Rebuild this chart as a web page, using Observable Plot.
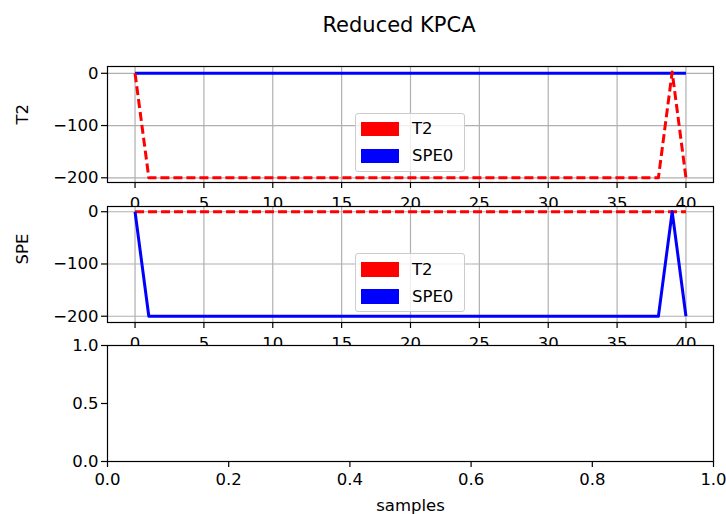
<!DOCTYPE html>
<html>
<head>
<meta charset="utf-8">
<script src="https://cdn.jsdelivr.net/npm/d3@7"></script>
<script src="https://cdn.jsdelivr.net/npm/@observablehq/plot@0.6"></script>
<style>
  body { margin: 0; background: #fff; }
  #fig { position: relative; width: 726px; height: 514px; overflow: hidden; background: #fff; font-family: "DejaVu Sans", sans-serif; color: #000; }
  #fig svg { position: absolute; left: 0; top: 0; overflow: visible; }
  .title { position: absolute; left: 0; top: 15px; width: 798px; text-align: center; font-size: 21px; line-height: 21px; white-space: nowrap; }
  .legend { position: absolute; width: 110px; height: 59px; box-sizing: border-box; border: 1px solid #cccccc; border-radius: 3px; background: rgba(255,255,255,0.8); }
  .legend .sw { position: absolute; left: 5px; width: 38px; height: 14.5px; }
  .legend .lb { position: absolute; left: 56px; font-size: 16.5px; line-height: 16px; white-space: nowrap; }
</style>
</head>
<body>
<div id="fig">
  <div class="title">Reduced KPCA</div>
</div>
<script>
// ---- data ----
const samples = [0,1,2,3,4,5,6,7,8,9,10,11,12,13,14,15,16,17,18,19,20,21,22,23,24,25,26,27,28,29,30,31,32,33,34,35,36,37,38,39,40];
// panel 1: T2 statistic (red dashed) and SPE0 (blue, flat)
const t2Top = [0,-200,-200,-200,-200,-200,-200,-200,-200,-200,-200,-200,-200,-200,-200,-200,-200,-200,-200,-200,-200,-200,-200,-200,-200,-200,-200,-200,-200,-200,-200,-200,-200,-200,-200,-200,-200,-200,-200,2.5,-200];
const spe0Top = [0,0,0,0,0,0,0,0,0,0,0,0,0,0,0,0,0,0,0,0,0,0,0,0,0,0,0,0,0,0,0,0,0,0,0,0,0,0,0,0,0];
// panel 2: T2 (red dashed, flat) and SPE0 statistic (blue)
const t2Mid = [0,0,0,0,0,0,0,0,0,0,0,0,0,0,0,0,0,0,0,0,0,0,0,0,0,0,0,0,0,0,0,0,0,0,0,0,0,0,0,0,0];
const spe0Mid = [0,-200,-200,-200,-200,-200,-200,-200,-200,-200,-200,-200,-200,-200,-200,-200,-200,-200,-200,-200,-200,-200,-200,-200,-200,-200,-200,-200,-200,-200,-200,-200,-200,-200,-200,-200,-200,-200,-200,0,-200];
// tick labels
const xTicks = [0,5,10,15,20,25,30,35,40];
const yTicks = [0,-100,-200];
const unitXTicks = [0,0.2,0.4,0.6,0.8,1.0];
const unitYTicks = [0,0.5,1.0];
const seriesNames = ["T2","SPE0"];
const seriesColors = ["#ff0000","#0000ff"];

// ---- layout ----
const W = 726, H = 514;
const left = 107, right = 713;
const fig = document.getElementById("fig");
const minus = d => d < 0 ? "\u2212" + (-d) : String(d);
const baseStyle = { background: "transparent", overflow: "visible", fontFamily: "DejaVu Sans, sans-serif", fontSize: "16.5px", color: "#000" };

function redLine(vals) {
  return Plot.line(samples, { x: samples, y: vals, stroke: seriesColors[0], strokeWidth: 3, strokeDasharray: "9,4", strokeLinejoin: "round", strokeLinecap: "butt" });
}
function blueLine(vals) {
  return Plot.line(samples, { x: samples, y: vals, stroke: seriesColors[1], strokeWidth: 3, strokeLinejoin: "round", strokeLinecap: "butt" });
}

function panel(top, bottom, yDomain, lineMarks, ylabel) {
  return Plot.plot({
    width: W, height: H,
    marginLeft: left, marginRight: W - right, marginTop: top, marginBottom: H - bottom,
    style: baseStyle,
    x: { domain: [-2, 42] },
    y: { domain: yDomain },
    marks: [
      Plot.frame({ fill: "white", stroke: null }),
      Plot.gridX(xTicks, { stroke: "#b0b0b0", strokeOpacity: 1, strokeWidth: 1.2 }),
      Plot.gridY(yTicks, { stroke: "#b0b0b0", strokeOpacity: 1, strokeWidth: 1.2 }),
      ...lineMarks,
      Plot.axisX(xTicks, { tickSize: 6, tickPadding: 9, label: null, strokeWidth: 1.2 }),
      Plot.axisY(yTicks, { tickSize: 6, tickPadding: 3, tickFormat: minus, label: null, strokeWidth: 1.2 }),
      Plot.text([ylabel], { frameAnchor: "left", dx: -85, rotate: -90, text: d => d, fontSize: 16.5 }),
      Plot.frame({ stroke: "#000", strokeWidth: 1.2 })
    ]
  });
}

const p1 = panel(66, 182, [-209, 13], [blueLine(spe0Top), redLine(t2Top)], "T2");
const p2 = panel(206, 322, [-212, 10], [redLine(t2Mid), blueLine(spe0Mid)], "SPE");
const p3 = Plot.plot({
  width: W, height: H,
  marginLeft: left, marginRight: W - right, marginTop: 345, marginBottom: H - 461,
  style: baseStyle,
  x: { domain: [0, 1] },
  y: { domain: [0, 1] },
  marks: [
    Plot.frame({ fill: "white", stroke: null }),
    Plot.axisX(unitXTicks, { tickSize: 6, tickPadding: 6, tickFormat: d3.format(".1f"), label: "samples", labelAnchor: "center", labelOffset: 49, labelArrow: "none", strokeWidth: 1.2 }),
    Plot.axisY(unitYTicks, { tickSize: 6, tickPadding: 3, tickFormat: d3.format(".1f"), label: null, strokeWidth: 1.2 }),
    Plot.frame({ stroke: "#000", strokeWidth: 1.2 })
  ]
});

function legend(topPx) {
  const box = document.createElement("div");
  box.className = "legend";
  box.style.left = "355px";
  box.style.top = topPx + "px";
  seriesNames.forEach((name, i) => {
    const sw = document.createElement("div");
    sw.className = "sw";
    sw.style.top = (8 + i * 27.2) + "px";
    sw.style.background = seriesColors[i];
    box.appendChild(sw);
    const lb = document.createElement("div");
    lb.className = "lb";
    lb.style.top = (7.5 + i * 27.2) + "px";
    lb.textContent = name;
    box.appendChild(lb);
  });
  return box;
}

fig.appendChild(p1);
fig.appendChild(legend(112.7));
fig.appendChild(p2);
fig.appendChild(legend(253));
fig.appendChild(p3);
</script>
</body>
</html>
